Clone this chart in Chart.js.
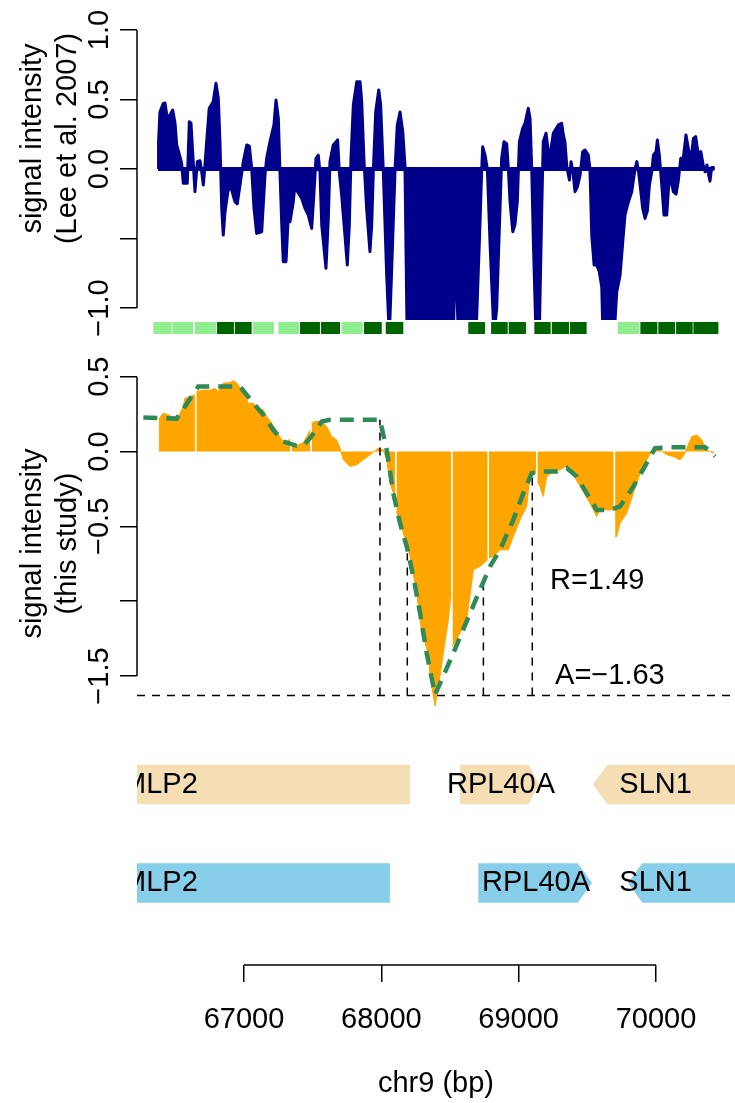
<!DOCTYPE html>
<html>
<head>
<meta charset="utf-8">
<script src="https://cdn.jsdelivr.net/npm/chart.js@4.4.1/dist/chart.umd.min.js"></script>
<style>
  html, body { margin: 0; padding: 0; background: #fff; }
  #page { position: relative; width: 735px; height: 1103px; overflow: hidden; background: #fff; }
  #page canvas { position: absolute; left: 0; }
</style>
</head>
<body>
<div id="page">
  <canvas id="leeChart" width="735" height="345" style="top:0px"></canvas>
  <canvas id="segChart" width="735" height="20" style="top:318px"></canvas>
  <canvas id="studyChart" width="735" height="395" style="top:345px"></canvas>
  <canvas id="geneChart" width="735" height="363" style="top:740px"></canvas>
</div>
<script>
// ---- data (positions in bp on chr9) ----
const xMin = 66221, xMax = 70575;

// Lee et al. 2007 signal
const leePos = [
  66374, 66378, 66388, 66412, 66425, 66441, 66461, 66481, 66498, 66510,
  66534, 66546, 66558, 66587, 66602, 66614, 66626, 66643, 66660, 66680,
  66692, 66704, 66716, 66728, 66747, 66776, 66796, 66813, 66825, 66838,
  66849, 66862, 66886, 66910, 66934, 66951, 66971, 66995, 67020, 67039,
  67056, 67073, 67092, 67129, 67153, 67165, 67189, 67218, 67233, 67250,
  67262, 67275, 67286, 67306, 67323, 67335, 67359, 67371, 67388, 67420,
  67444, 67468, 67493, 67510, 67524, 67541, 67553, 67566, 67597, 67614,
  67626, 67650, 67682, 67694, 67711, 67735, 67752, 67767, 67779, 67796,
  67821, 67845, 67857, 67874, 67893, 67917, 67930, 67942, 67959, 67981,
  67995, 68014, 68039, 68058, 68076, 68100, 68116, 68136, 68156, 68172,
  68189, 68209, 68432, 68440, 68447, 68522, 68537, 68568, 68682, 68718,
  68731, 68738, 68755, 68772, 68791, 68820, 68840, 68864, 68876, 68893,
  68913, 68925, 68937, 68957, 68973, 68990, 69005, 69029, 69046, 69070,
  69083, 69095, 69107, 69126, 69150, 69168, 69179, 69199, 69216, 69232,
  69252, 69289, 69313, 69325, 69337, 69350, 69369, 69381, 69395, 69410,
  69427, 69447, 69466, 69483, 69507, 69519, 69532, 69549, 69568, 69587,
  69605, 69616, 69689, 69714, 69738, 69758, 69774, 69799, 69823, 69847,
  69860, 69871, 69884, 69903, 69920, 69937, 69952, 69969, 69981, 70000,
  70010, 70024, 70042, 70058, 70078, 70090, 70102, 70126, 70146, 70162,
  70180, 70199, 70218, 70235, 70253, 70272, 70289, 70308, 70326, 70345,
  70357, 70371, 70383, 70393, 70405, 70417, 70418
];
const leeVal = [
  0, 0.2, 0.41, 0.47, 0.475, 0.365, 0.388, 0.424, 0.329, 0.173,
  0.089, 0.041, -0.103, -0.103, 0.34, 0.33, 0.125, -0.163, 0.053, 0.06,
  -0.02, -0.115, 0.029, 0.196, 0.437, 0.484, 0.617, 0.509, 0.196, -0.283,
  -0.475, -0.307, -0.139, -0.15, -0.235, -0.25, -0.115, 0.053, 0.173, 0.165,
  0.005, -0.283, -0.463, -0.451, -0.043, 0.077, 0.196, 0.317, 0.496, 0.365,
  -0.02, -0.403, -0.667, -0.667, -0.331, -0.379, -0.235, -0.115, -0.16, -0.211,
  -0.283, -0.331, -0.427, -0.163, 0.077, 0.1, -0.02, -0.403, -0.714, -0.355,
  0.053, 0.173, 0.209, -0.02, -0.187, -0.475, -0.69, -0.4, 0.077, 0.46,
  0.628, 0.628, 0.484, 0.053, -0.283, -0.595, -0.4, -0.005, 0.412, 0.568,
  0.46, -0.01, -0.763, -1.2, -0.7, 0.0, 0.317, 0.41, 0.268, 0.029,
  -1.3, -1.5, -1.5, -0.76, -1.5, -1.4, -0.53, -1.4, -1.4, -0.403,
  0.0, 0.16, 0.1, 0.0, -0.523, -1.2, -1.0, -0.283, 0.077, 0.196,
  0.18, 0.0, -0.235, -0.451, -0.4, -0.235, 0.196, 0.293, 0.329, 0.437,
  0.36, 0.0, -0.523, -1.2, -1.2, -0.28, 0.196, 0.257, 0.125, 0.12,
  0.257, 0.317, 0.329, 0.245, 0.196, 0.02, -0.079, 0.053, -0.02, -0.163,
  -0.13, -0.043, 0.125, 0.137, 0.1, 0.0, -0.475, -0.69, -0.69, -0.739,
  -0.85, -1.3, -1.3, -0.883, -0.763, -0.523, -0.331, -0.235, -0.163, 0.0,
  0.053, 0.0, -0.115, -0.283, -0.355, -0.3, -0.115, -0.02, 0.1, 0.125,
  0.209, 0.1, -0.115, -0.331, -0.331, -0.15, -0.04, -0.163, -0.18, -0.087,
  0.077, 0.08, 0.245, 0.149, 0.053, 0.22, 0.233, 0.1, 0.125, 0.02,
  -0.02, 0.029, -0.04, -0.087, 0.01, 0.01, 0
];
const leeTicks = [-1, -0.5, 0, 0.5, 1];
const leeTickLabels = ['\u22121.0', '', '0.0', '0.5', '1.0'];

// bound segments under the Lee track
const segStart = [66340, 66478, 66643, 66803, 66934, 67066, 67250, 67408, 67561, 67711, 67874, 68032,
                  68633, 68799, 68927, 69114, 69241, 69374, 69721, 69886, 70017, 70146, 70272];
const segEnd   = [66474, 66631, 66796, 66927, 67056, 67218, 67400, 67553, 67699, 67864, 68003, 68160,
                  68755, 68920, 69053, 69233, 69367, 69495, 69879, 70010, 70138, 70267, 70454];
const segType  = ['light', 'light', 'light', 'dark', 'dark', 'light', 'light', 'dark', 'dark', 'light', 'dark', 'dark',
                  'dark', 'dark', 'dark', 'dark', 'dark', 'dark', 'light', 'dark', 'dark', 'dark', 'dark'];

// this study signal (null = probe gap)
const studyPos = [
  66383, 66384, 66412, 66449, 66485, 66522, 66558, 66570, 66607, 66643,
  66648, 66653, 66692, 66752, 66789, 66813, 66849, 66898, 66922, 66947,
  66983, 67007, 67031, 67068, 67104, 67141, 67165, 67202, 67238, 67275,
  67311, 67337, 67342, 67347, 67359, 67384, 67432, 67457, 67483, 67488,
  67493, 67517, 67566, 67602, 67639, 67675, 67699, 67723, 67772, 67821,
  67869, 67917, 67978, 68014, 68039, 68063, 68100, 68105, 68110, 68160,
  68209, 68258, 68294, 68342, 68355, 68391, 68427, 68451, 68488, 68508,
  68513, 68518, 68573, 68622, 68670, 68718, 68774, 68779, 68784, 68815,
  68864, 68925, 68961, 69010, 69058, 69083, 69126, 69131, 69136, 69155,
  69179, 69204, 69252, 69301, 69350, 69398, 69447, 69483, 69519, 69568,
  69592, 69692, 69697, 69702, 69714, 69738, 69787, 69835, 69884, 69932,
  69980, 70029, 70078, 70126, 70175, 70199, 70224, 70260, 70296, 70333,
  70369, 70417, 70418
];
const studyVal = [
  0, 0.223, 0.256, 0.245, 0.227, 0.234, 0.3, 0.356, 0.367, 0.379,
  null, 0.4, 0.41, 0.41, 0.423, 0.4, 0.457, 0.46, 0.474, 0.457,
  0.412, 0.379, 0.323, 0.323, 0.29, 0.279, 0.234, 0.19, 0.134, 0.078,
  0.067, 0.083, null, 0.06, 0.05, 0.04, 0.06, 0.1, 0.145, null,
  0.19, 0.2, 0.2, 0.167, 0.1, 0.078, 0.022, -0.055, -0.1, -0.089,
  -0.055, -0.022, 0.022, 0.011, -0.055, -0.211, -0.311, null, -0.4, -0.545,
  -0.701, -0.946, -1.213, -1.347, -1.503, -1.70, -1.503, -1.347, -1.124, -0.946,
  null, -1.303, -1.213, -1.124, -0.79, -0.768, -0.723, null, -0.71, -0.701,
  -0.657, -0.657, -0.568, -0.456, -0.367, -0.156, -0.145, null, -0.2, -0.234,
  -0.3, -0.167, -0.134, -0.122, -0.095, -0.156, -0.234, -0.289, -0.345, -0.434,
  -0.39, -0.39, null, -0.57, -0.568, -0.478, -0.411, -0.278, -0.145, -0.056,
  0.022, 0.011, -0.022, -0.033, -0.055, -0.03, 0.022, 0.1, 0.11, 0.078,
  0.011, -0.011, 0
];
const studyTicks = [-1.5, -1, -0.5, 0, 0.5];
const studyTickLabels = ['\u22121.5', '', '\u22120.5', '0.0', '0.5'];

// fitted profile
const fitPos = [66267, 66510, 66667, 66971, 67068, 67141, 67213, 67286, 67384, 67432,
                67481, 67566, 67626, 67990, 68039, 68087, 68136, 68185, 68233, 68282,
                68330, 68391, 68524, 68646, 68791, 68864, 68961, 69034, 69095, 69179,
                69277, 69350, 69423, 69495, 69568, 69665, 69738, 69835, 69932, 69993,
                70102, 70357, 70430];
const fitVal = [0.227, 0.22, 0.434, 0.434, 0.323, 0.245, 0.145, 0.067, 0.038, 0.04,
                0.089, 0.2, 0.212, 0.212, 0.011, -0.278, -0.478, -0.635, -0.835, -1.08,
                -1.347, -1.625, -1.347, -1.08, -0.768, -0.657, -0.456, -0.278, -0.144, -0.134,
                -0.134, -0.111, -0.167, -0.278, -0.39, -0.39, -0.367, -0.234, -0.078, 0.023,
                0.029, 0.029, -0.033];

const cutA = -1.63;
const ratioR = 1.49;
const boundaryPos = [67990, 68189, 68743, 69099];
const boundaryTop = [0.212, -0.68, -0.88, -0.14];

// gene annotation tracks (2 = upper track, 1 = lower track)
const geneNames  = ['MLP2', 'RPL40A', 'SLN1', 'MLP2', 'RPL40A', 'SLN1'];
const geneTrack  = [2, 2, 2, 1, 1, 1];
const geneStart  = [64500, 68573, 69541, 64500, 68706, 69796];
const geneEnd    = [68209, 69148, 71500, 68062, 69534, 71500];
const geneStrand = ['-', '+', '-', '-', '+', '-'];
const geneLabelPos = [66388, 68871, 69997, 66388, 69126, 69997];

const axisTicks = [67000, 68000, 69000, 70000];
const axisTickLabels = ['67000', '68000', '69000', '70000'];

// ---- styling ----
const FONT = '"Liberation Sans", Arial, Helvetica, sans-serif';
const NAVY = '#00008B', ORANGE = '#FFA500', SEAGREEN = '#2E8B57';
const LIGHTGREEN = '#90EE90', DARKGREEN = '#006400', WHEAT = '#F5DEB3', SKY = '#87CEEB';
const LABEL_SIZE = 29;
const LINE_H = 34.8;
const TICK_LABEL_X = 100;
const TITLE_X = 33;

Chart.defaults.font.family = FONT;
Chart.defaults.color = '#000';
Chart.defaults.animation = false;

function pts(xs, ys) {
  return xs.map((x, i) => ({ x: x, y: ys[i] }));
}

function fmt(v) {
  return (v < 0 ? '\u2212' : '') + Math.abs(v).toFixed(2);
}

function yScale(min, max, ticks) {
  return {
    type: 'linear', min: min, max: max, position: 'left',
    afterBuildTicks: s => { s.ticks = ticks.map(v => ({ value: v })); },
    afterFit: s => { s.width = 137; },
    ticks: { display: false },
    grid: { display: true, drawOnChartArea: false, drawTicks: true, tickLength: 17, color: '#000', lineWidth: 1.5 },
    border: { display: false }
  };
}

// R style y axis: line only between first and last tick, rotated labels, two-line title
function yAxisPlugin(ticks, labels, title, titleShift) {
  return {
    id: 'rYAxis',
    afterDraw(chart) {
      const ctx = chart.ctx;
      const s = chart.scales.y;
      const a = chart.chartArea;
      ctx.save();
      ctx.strokeStyle = '#000';
      ctx.lineWidth = 1.5;
      ctx.beginPath();
      ctx.moveTo(a.left, s.getPixelForValue(ticks[0]));
      ctx.lineTo(a.left, s.getPixelForValue(ticks[ticks.length - 1]));
      ctx.stroke();
      ctx.fillStyle = '#000';
      ctx.font = LABEL_SIZE + 'px ' + FONT;
      ctx.textAlign = 'center';
      ctx.textBaseline = 'middle';
      ticks.forEach((v, i) => {
        if (!labels[i]) return;
        ctx.save();
        ctx.translate(TICK_LABEL_X, s.getPixelForValue(v));
        ctx.rotate(-Math.PI / 2);
        ctx.fillText(labels[i], 0, 0);
        ctx.restore();
      });
      const cy = (a.top + a.bottom) / 2 + titleShift;
      title.forEach((line, i) => {
        ctx.save();
        ctx.translate(TITLE_X + i * LINE_H, cy);
        ctx.rotate(-Math.PI / 2);
        ctx.fillText(line, 0, 0);
        ctx.restore();
      });
      ctx.restore();
    }
  };
}

const common = {
  responsive: false,
  animation: false,
  plugins: { legend: { display: false }, tooltip: { enabled: false } },
  elements: { point: { radius: 0 } }
};

// ---- top: Lee et al. 2007 ----
new Chart(document.getElementById('leeChart'), {
  type: 'line',
  data: {
    datasets: [
      {
        data: [{ x: leePos[0], y: 0 }, { x: leePos[leePos.length - 1], y: 0 }],
        borderColor: NAVY, borderWidth: 4, pointRadius: 0, fill: false, order: 0
      },
      {
        data: pts(leePos, leeVal),
        borderColor: NAVY, backgroundColor: NAVY, borderWidth: 3, borderJoinStyle: 'round',
        pointRadius: 0, fill: 'origin', order: 1
      }
    ]
  },
  options: {
    ...common,
    layout: { padding: { top: 19, bottom: 25, left: 0, right: 0 } },
    scales: {
      x: { type: 'linear', min: xMin, max: xMax, display: false },
      y: yScale(-1.086, 1.079, leeTicks)
    }
  },
  plugins: [yAxisPlugin(leeTicks, leeTickLabels, ['signal intensity', '(Lee et al. 2007)'], -31)]
});

// ---- bound segments strip ----
function segPoints(type) {
  const out = [];
  segStart.forEach((s, i) => {
    if (segType[i] !== type) return;
    out.push({ x: s, y: 0 }, { x: segEnd[i], y: 0 }, { x: segEnd[i], y: null });
  });
  return out;
}

new Chart(document.getElementById('segChart'), {
  type: 'line',
  data: {
    datasets: [
      { data: segPoints('light'), borderColor: LIGHTGREEN, borderWidth: 12, pointRadius: 0, fill: false },
      { data: segPoints('dark'), borderColor: DARKGREEN, borderWidth: 12, pointRadius: 0, fill: false }
    ]
  },
  options: {
    ...common,
    layout: { padding: { left: 137, right: 0, top: 0, bottom: 0 } },
    scales: {
      x: { type: 'linear', min: xMin, max: xMax, display: false },
      y: { type: 'linear', min: -1, max: 1, display: false }
    }
  }
});

// ---- middle: this study ----
const boundaryLines = [];
boundaryPos.forEach((b, i) => {
  boundaryLines.push({ x: b, y: cutA }, { x: b, y: boundaryTop[i] }, { x: b, y: null });
});

const fitNotes = {
  id: 'fitNotes',
  afterDatasetsDraw(chart) {
    const ctx = chart.ctx, x = chart.scales.x, y = chart.scales.y;
    ctx.save();
    ctx.fillStyle = '#000';
    ctx.font = LABEL_SIZE + 'px ' + FONT;
    ctx.textAlign = 'left';
    ctx.textBaseline = 'middle';
    ctx.fillText('R=' + ratioR.toFixed(2), x.getPixelForValue(69228), y.getPixelForValue(-0.864));
    ctx.fillText('A=' + fmt(cutA), x.getPixelForValue(69265), y.getPixelForValue(-1.5));
    ctx.restore();
  }
};

new Chart(document.getElementById('studyChart'), {
  type: 'line',
  data: {
    datasets: [
      {
        data: pts(fitPos, fitVal),
        borderColor: SEAGREEN, borderWidth: 4.5, borderDash: [14, 9], pointRadius: 0, fill: false, order: 0
      },
      {
        data: [{ x: xMin, y: cutA }, { x: xMax, y: cutA }],
        borderColor: '#000', borderWidth: 1.5, borderDash: [8, 7], pointRadius: 0, fill: false, order: 1
      },
      {
        data: boundaryLines,
        borderColor: '#000', borderWidth: 1.5, borderDash: [8, 7], pointRadius: 0, fill: false, order: 1
      },
      {
        data: pts(studyPos, studyVal),
        borderColor: ORANGE, backgroundColor: ORANGE, borderWidth: 1, pointRadius: 0, fill: 'origin', order: 2
      }
    ]
  },
  options: {
    ...common,
    layout: { padding: { top: 23, bottom: 21, left: 0, right: 0 } },
    scales: {
      x: { type: 'linear', min: xMin, max: xMax, display: false },
      y: yScale(-1.787, 0.558, studyTicks)
    }
  },
  plugins: [yAxisPlugin(studyTicks, studyTickLabels, ['signal intensity', '(this study)'], 0), fitNotes]
});

// ---- genes + genomic axis ----
function genePolygon(i) {
  const mid = geneTrack[i], top = mid + 0.2, bot = mid - 0.2;
  const s = geneStart[i], e = geneEnd[i];
  const h = Math.min(104, 0.13 * (e - s));
  if (geneStrand[i] === '+') {
    return [{ x: s, y: top }, { x: e - h, y: top }, { x: e, y: mid }, { x: e - h, y: bot }, { x: s, y: bot }];
  }
  return [{ x: s, y: mid }, { x: s + h, y: top }, { x: e, y: top }, { x: e, y: bot }, { x: s + h, y: bot }];
}

const geneLabels = {
  id: 'geneLabels',
  afterDatasetsDraw(chart) {
    const ctx = chart.ctx, x = chart.scales.x, y = chart.scales.y, a = chart.chartArea;
    ctx.save();
    ctx.beginPath();
    ctx.rect(a.left, a.top, a.right - a.left, a.bottom - a.top);
    ctx.clip();
    ctx.fillStyle = '#000';
    ctx.font = LABEL_SIZE + 'px ' + FONT;
    ctx.textAlign = 'center';
    ctx.textBaseline = 'middle';
    geneNames.forEach((n, i) => {
      ctx.fillText(n, x.getPixelForValue(geneLabelPos[i]), y.getPixelForValue(geneTrack[i]));
    });
    ctx.restore();
  },
  afterDraw(chart) {
    const ctx = chart.ctx, x = chart.scales.x;
    const yb = chart.chartArea.bottom;
    ctx.save();
    ctx.strokeStyle = '#000';
    ctx.lineWidth = 1.5;
    ctx.beginPath();
    ctx.moveTo(x.getPixelForValue(axisTicks[0]), yb);
    ctx.lineTo(x.getPixelForValue(axisTicks[axisTicks.length - 1]), yb);
    ctx.stroke();
    ctx.restore();
  }
};

new Chart(document.getElementById('geneChart'), {
  type: 'line',
  data: {
    datasets: geneNames.map((n, i) => ({
      data: genePolygon(i),
      fill: 'shape',
      backgroundColor: geneTrack[i] === 2 ? WHEAT : SKY,
      borderColor: 'rgba(0,0,0,0)',
      borderWidth: 0,
      pointRadius: 0
    }))
  },
  options: {
    ...common,
    layout: { padding: { left: 137, right: 0, top: 0, bottom: 0 } },
    scales: {
      x: {
        type: 'linear', min: xMin, max: xMax, position: 'bottom',
        afterBuildTicks: s => { s.ticks = axisTicks.map(v => ({ value: v })); },
        afterFit: s => { s.height = 138; },
        ticks: {
          callback: (v, i) => axisTickLabels[i],
          font: { size: LABEL_SIZE }, color: '#000', padding: 21, autoSkip: false, maxRotation: 0
        },
        grid: { display: true, drawOnChartArea: false, drawTicks: true, tickLength: 17, color: '#000', lineWidth: 1.5 },
        border: { display: false },
        title: { display: true, text: 'chr9 (bp)', color: '#000', font: { size: LABEL_SIZE, lineHeight: 1.2 }, padding: { top: 0, bottom: 2 } }
      },
      y: { type: 'linear', min: 0.1675, max: 2.452, display: false }
    }
  },
  plugins: [geneLabels]
});
</script>
</body>
</html>
